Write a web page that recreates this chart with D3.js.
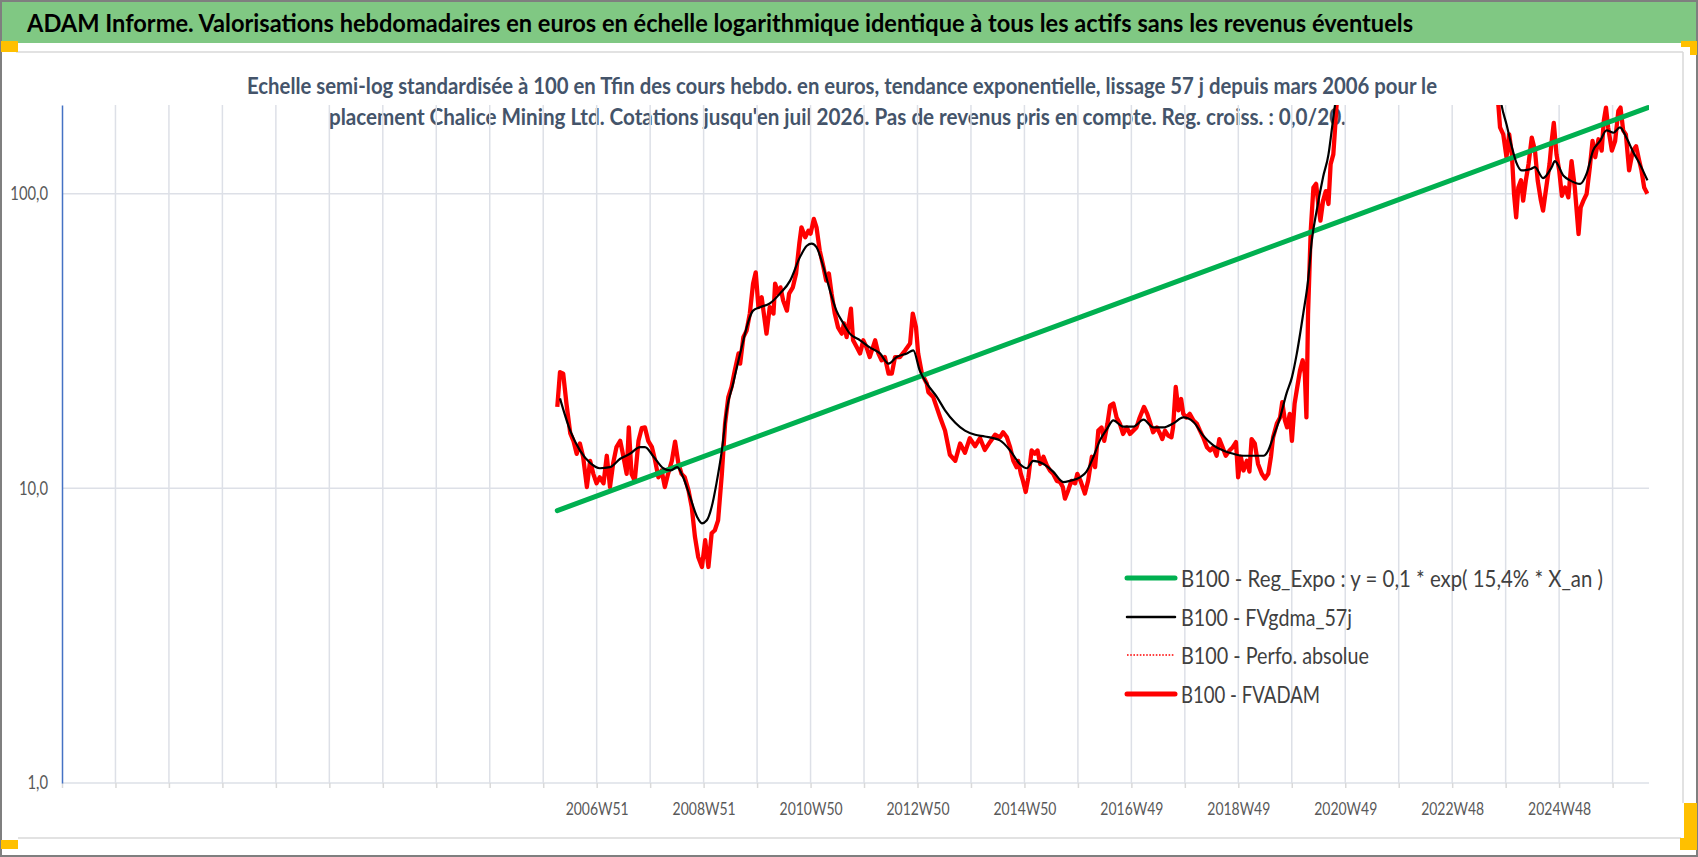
<!DOCTYPE html>
<html><head><meta charset="utf-8">
<script src="https://cdn.jsdelivr.net/npm/d3@7"></script>
<style>
html,body{margin:0;padding:0;background:#fff;}
svg{display:block;}
text{font-family:Lato,"Open Sans","Noto Sans",sans-serif;}
</style></head><body>
<svg id="c" width="1698" height="857"></svg>
<script>
// ---------------- DATA ----------------
const titleText = "ADAM Informe. Valorisations hebdomadaires en euros en échelle logarithmique identique à tous les actifs sans les revenus éventuels";
const subtitleLines = [
  "Echelle semi-log standardisée à 100 en Tfin des cours hebdo. en euros, tendance exponentielle, lissage 57 j depuis mars 2006 pour le",
  "placement Chalice Mining Ltd. Cotations jusqu'en juil 2026. Pas de revenus pris en compte. Reg. croiss. : 0,0/20."
];
const xTickLabels = ["2006W51","2008W51","2010W50","2012W50","2014W50","2016W49","2018W49","2020W49","2022W48","2024W48"];
const xTickGridIndex = [10,12,14,16,18,20,22,24,26,28];
const yTicks = [1,10,100];
const yTickLabels = ["1,0","10,0","100,0"];
const legendLabels = [
  "B100 - Reg_Expo : y = 0,1 * exp( 15,4% *  X_an )",
  "B100 - FVgdma_57j",
  "B100 - Perfo. absolue",
  "B100 - FVADAM"
];

// Exponential regression line (B100 - Reg_Expo)
const regYears  = [2006.21, 2011.0, 2016.0, 2021.0, 2026.49];
const regValues = [8.4, 17.7, 38.5, 83.6, 196];

// B100 - FVADAM (red)
const adamYears = [
2006.21,2006.26,2006.32,2006.38,2006.45,2006.51,2006.57,2006.63,2006.69,2006.76,2006.82,2006.88,2006.94,
2007.00,2007.07,2007.13,2007.19,2007.25,2007.31,2007.38,2007.44,2007.50,2007.54,2007.59,2007.65,2007.72,2007.78,2007.84,2007.90,2007.97,
2008.03,2008.09,2008.15,2008.21,2008.27,2008.34,2008.40,2008.46,2008.52,2008.58,2008.65,2008.71,2008.77,2008.83,2008.90,2008.96,
2009.02,2009.08,2009.14,2009.20,2009.27,2009.33,2009.39,2009.45,2009.51,2009.58,2009.61,2009.67,2009.73,2009.79,2009.85,2009.90,2009.95,
2010.01,2010.05,2010.10,2010.16,2010.23,2010.26,2010.32,2010.36,2010.41,2010.48,2010.52,2010.59,2010.65,2010.71,2010.75,2010.82,2010.88,2010.92,2010.98,
2011.03,2011.09,2011.16,2011.21,2011.26,2011.31,2011.37,2011.43,2011.50,2011.54,2011.59,2011.67,2011.71,2011.78,2011.84,2011.90,2011.96,
2012.02,2012.12,2012.18,2012.24,2012.30,2012.37,2012.43,2012.49,2012.58,2012.68,2012.77,2012.82,2012.88,2012.92,2012.99,
2013.08,2013.11,2013.20,2013.33,2013.42,2013.51,2013.61,2013.70,2013.79,2013.88,2013.98,
2014.07,2014.16,2014.26,2014.35,2014.44,2014.50,2014.57,2014.63,2014.69,2014.75,2014.78,2014.83,2014.87,2014.92,2014.97,
2015.03,2015.09,2015.14,2015.19,2015.25,2015.31,2015.37,2015.43,2015.50,2015.56,2015.61,2015.65,2015.71,2015.77,2015.84,2015.88,2015.94,
2016.02,2016.08,2016.15,2016.21,2016.27,2016.33,2016.38,2016.44,2016.49,2016.55,2016.61,2016.67,2016.73,2016.80,2016.86,2016.92,2016.98,
2017.04,2017.12,2017.18,2017.23,2017.29,2017.36,2017.42,2017.46,2017.51,2017.57,2017.63,2017.66,2017.71,2017.76,2017.81,2017.85,2017.91,2017.97,
2018.04,2018.10,2018.16,2018.22,2018.29,2018.35,2018.41,2018.47,2018.52,2018.58,2018.64,2018.71,2018.77,2018.83,2018.87,2018.92,2018.97,
2019.03,2019.08,2019.12,2019.18,2019.24,2019.31,2019.37,2019.43,2019.48,2019.52,2019.59,2019.65,2019.69,2019.74,2019.78,2019.83,2019.87,2019.92,2019.97,
2020.02,2020.07,2020.11,2020.14,2020.17,2020.22,2020.27,2020.32,2020.36,2020.40,2020.45,2020.50,2020.55,2020.59,2020.64,2020.67,2020.70,
2020.75,2020.85,2020.95,2021.15,2021.35,2021.55,2021.75,2021.90,2022.05,2022.25,2022.45,2022.65,2022.85,2023.05,2023.25,2023.45,2023.60,2023.66,
2023.71,2023.74,2023.80,2023.86,2023.91,2023.96,2024.00,2024.04,2024.08,2024.13,2024.17,2024.22,2024.27,2024.33,2024.39,2024.44,2024.50,2024.54,
2024.59,2024.66,2024.70,2024.74,2024.79,2024.84,2024.89,2024.95,2025.01,2025.07,2025.13,2025.20,2025.24,2025.29,2025.35,2025.41,2025.46,2025.51,
2025.57,2025.63,2025.67,2025.71,2025.75,2025.82,2025.88,2025.94,2025.98,2026.03,2026.08,2026.14,2026.21,2026.27,2026.33,2026.37,2026.42,2026.48
];
const adamValues = [
18.9,24.8,24.5,19.4,15.4,14.5,13.1,14.2,12.8,10.1,12.4,11.2,10.4,
10.9,10.4,12.9,10.1,12.2,13.8,14.5,12.8,11.2,16.1,11.2,10.6,14.5,16.0,16.1,14.5,13.8,
12.4,10.9,11.5,10.1,11.2,12.4,14.4,12.2,11.2,10.9,9.84,8.64,6.84,5.85,5.41,6.67,
5.41,7.04,7.21,7.79,11.2,16.6,20.4,22.1,25.1,28.7,26.5,32.6,34.3,39.2,49.5,54.1,41.2,
44.5,39.2,33.5,41.2,39.2,49.5,45.8,48.1,43.4,40.1,45.8,48.1,53.6,67.7,76.9,71.1,74.9,73.2,82.1,
76.9,64.1,56.3,50.7,53.6,45.8,39.2,35.2,33.5,36.3,32.6,40.7,31.8,30.1,28.7,31.8,30.1,
27.9,31.8,28.7,27.2,27.9,24.5,24.5,27.9,27.9,29.4,31.0,39.2,35.2,28.7,24.5,
22.7,21.2,20.4,17.4,15.7,13.0,12.4,14.2,13.2,14.8,13.9,
14.8,13.5,14.4,15.2,14.9,15.5,14.9,13.8,12.4,11.8,12.4,11.2,10.6,9.72,10.9,
13.45,13.1,13.45,12.1,12.8,12.0,11.5,11.2,10.6,10.5,10.1,9.23,9.84,10.6,10.4,11.2,10.6,
9.6,10.6,12.8,11.8,15.7,16.1,14.5,16.6,19.1,19.4,17.4,16.6,15.3,16.1,15.3,15.7,16.1,
17.4,18.9,17.9,16.8,15.5,16.1,15.3,14.7,15.7,15.1,14.9,16.1,22.1,18.4,20.1,17.9,17.4,17.9,
17.0,16.6,15.7,14.9,13.8,13.45,13.8,12.9,14.7,13.8,12.9,13.45,13.8,14.35,10.9,12.8,11.5,
12.4,11.4,14.7,14.2,12.1,11.2,10.8,11.2,12.8,14.9,16.6,17.4,19.6,17.0,16.1,17.9,14.5,19.4,22.1,
25.1,27.2,24.5,17.4,39.1,74.9,105,108,92.3,81.0,94.7,102,92.3,126,136,164,199,
240,330,420,480,620,720,880,1000,760,650,470,560,500,660,600,430,290,235,
199,168,159,133,159,136,99.8,83.1,105,111,94.7,111,126,155,140,111,94.7,87.6,
102,126,151,174,136,120,98.4,105,97.2,129,105,73.0,89.9,94.7,99.8,123,151,133,
153,140,177,196,168,140,151,191,196,164,159,120,140,145,129,120,105,100
];

// B100 - FVgdma_57j (black, smoothed)
const gdmaYears = [
2006.26,2006.45,2006.63,2006.82,2007.00,2007.19,2007.38,2007.56,2007.75,2007.84,2008.00,2008.18,2008.31,2008.44,2008.55,2008.68,2008.81,2008.90,2008.99,
2009.08,2009.17,2009.27,2009.36,2009.48,2009.61,2009.85,2009.98,2010.16,2010.35,2010.54,2010.72,2010.85,2010.94,2011.03,2011.16,2011.28,2011.40,2011.53,2011.65,2011.84,
2012.02,2012.21,2012.37,2012.52,2012.71,2012.83,2012.95,2013.08,2013.27,2013.42,2013.61,2013.79,2013.98,2014.16,2014.44,2014.63,2014.81,2014.94,
2015.06,2015.25,2015.43,2015.62,2015.74,2015.93,2016.05,2016.18,2016.30,2016.43,2016.55,2016.73,2016.92,2017.11,2017.29,2017.48,2017.66,2017.85,
2018.04,2018.22,2018.41,2018.59,2018.78,2018.97,2019.15,2019.34,2019.43,2019.52,2019.65,2019.77,2019.87,2019.96,
2020.08,2020.17,2020.24,2020.33,2020.45,2020.55,2020.61,2020.67,
2020.75,2020.90,2021.20,2021.50,2021.80,2022.00,2022.30,2022.70,2023.00,2023.30,2023.55,2023.70,
2023.77,2023.86,2023.96,2024.04,2024.14,2024.30,2024.39,2024.54,2024.70,2024.76,2024.92,2025.04,2025.23,2025.35,2025.47,2025.60,2025.72,2025.85,2025.97,2026.09,2026.22,2026.34,2026.48
];
const gdmaValues = [
20.2,15.7,13.45,12.2,11.7,11.8,12.6,13.1,13.8,13.8,12.8,11.7,11.5,11.8,10.9,9.34,8.0,7.61,7.79,
8.64,10.4,13.45,18.4,22.7,28.7,40.1,41.2,42.4,45.8,50.7,60.8,66.6,67.7,65.8,56.3,46.9,40.1,36.3,33.5,31.8,
30.1,28.7,26.5,27.9,28.7,29.4,25.1,22.7,20.4,18.4,16.7,15.7,15.2,15.0,14.55,13.45,12.1,11.7,
12.4,12.1,11.4,10.5,10.6,10.9,11.4,12.8,14.55,15.9,17.0,16.2,16.2,17.1,16.1,16.1,16.6,17.4,
16.8,15.1,14.0,13.45,13.1,12.9,12.9,12.9,13.45,14.9,17.4,21.0,23.8,28.6,
39.1,50.7,69.3,87.6,114,136,164,199,
240,320,480,620,800,760,600,520,560,500,330,240,
199,172,144,128,120,121,123,113,123,129,115,111,108,117,140,151,164,161,168,155,138,126,111
];

// ---------------- LAYOUT ----------------
const W = 1698, H = 857;
const P = {left: 62, right: 1649, top: 105, bottom: 783};
const gridStep = 0.99424;           // one 52-week period on the category axis
const svg = d3.select("#c");

svg.append("rect").attr("width", W).attr("height", H).attr("fill", "#fff");
// header band
svg.append("rect").attr("x", 2).attr("y", 2).attr("width", W - 4).attr("height", 41).attr("fill", "#80c883");
// inner panel light frame
const frame = svg.append("g").attr("stroke", "#d9d9d9").attr("stroke-width", 1.5);
frame.append("line").attr("x1", 16).attr("x2", 1683).attr("y1", 52).attr("y2", 52);
frame.append("line").attr("x1", 18).attr("x2", 1681).attr("y1", 838).attr("y2", 838);
frame.append("line").attr("x1", 1683).attr("x2", 1683).attr("y1", 52).attr("y2", 803);
// outer border
svg.append("rect").attr("x", 1).attr("y", 1).attr("width", W - 2).attr("height", H - 2)
  .attr("fill", "none").attr("stroke", "#7f7f7f").attr("stroke-width", 2);
// orange handles
const org = svg.append("g").attr("fill", "#ffc000");
org.append("rect").attr("x", 1).attr("y", 41).attr("width", 17).attr("height", 11);
org.append("rect").attr("x", 1681).attr("y", 41).attr("width", 16).attr("height", 6);
org.append("rect").attr("x", 1690).attr("y", 41).attr("width", 7).attr("height", 14);
org.append("rect").attr("x", 1684).attr("y", 803).attr("width", 13).attr("height", 36);
org.append("rect").attr("x", 1680).attr("y", 838).attr("width", 17).attr("height", 12);
org.append("rect").attr("x", 1).attr("y", 840).attr("width", 17).attr("height", 9);

// title
svg.append("text").attr("x", 27).attr("y", 32).text(titleText)
  .attr("font-size", 25).attr("font-weight", 700).attr("fill", "#000")
  .attr("textLength", 1386).attr("lengthAdjust", "spacingAndGlyphs");
// subtitle
const subPos = [{x: 247, y: 94, w: 1190}, {x: 329, y: 125, w: 1017}];
subtitleLines.forEach((s, i) => {
  svg.append("text").attr("x", subPos[i].x).attr("y", subPos[i].y).text(s)
    .attr("font-size", 23).attr("font-weight", 700).attr("fill", "#44546a")
    .attr("textLength", subPos[i].w).attr("lengthAdjust", "spacingAndGlyphs");
});

// scales
const x = d3.scaleLinear().domain([1997.0, 2026.51]).range([P.left, P.right]);
const y = d3.scaleLog().domain([1, 200]).range([P.bottom, P.top]);
const gridYears = d3.range(0, 30).map(k => 1997.0 + k * gridStep);

// vertical gridlines
svg.append("g").selectAll("line").data(gridYears.slice(1)).join("line")
  .attr("x1", d => x(d)).attr("x2", d => x(d)).attr("y1", P.top).attr("y2", P.bottom)
  .attr("stroke", "#dde0e7").attr("stroke-width", 1.5);
// horizontal gridlines
svg.append("g").selectAll("line").data(yTicks).join("line")
  .attr("x1", P.left).attr("x2", P.right).attr("y1", d => y(d)).attr("y2", d => y(d))
  .attr("stroke", "#dde0e7").attr("stroke-width", 1.5);

// x axis
const labelByIndex = {};
xTickGridIndex.forEach((k, i) => labelByIndex[k] = xTickLabels[i]);
const xAxis = d3.axisBottom(x).tickValues(gridYears).tickSize(5).tickPadding(14)
  .tickFormat((d, i) => labelByIndex[i] || "");
const gx = svg.append("g").attr("transform", `translate(0,${P.bottom})`).call(xAxis);
gx.select(".domain").remove();
gx.selectAll(".tick line").attr("stroke", "#d9d9d9").attr("stroke-width", 1.5);
gx.selectAll(".tick text").attr("font-size", 18).attr("fill", "#595959").attr("font-family", "Lato")
  .each(function () { const t = this.textContent; if (t) { d3.select(this).attr("textLength", 63).attr("lengthAdjust", "spacingAndGlyphs"); } });

// y axis
const yAxis = d3.axisLeft(y).tickValues(yTicks).tickSize(0).tickPadding(14)
  .tickFormat(d => yTickLabels[yTicks.indexOf(d)]);
const gy = svg.append("g").attr("transform", `translate(${P.left},0)`).call(yAxis);
gy.select(".domain").attr("stroke", "#4472c4").attr("stroke-width", 1.5);
gy.selectAll(".tick text").attr("font-size", 18.5).attr("fill", "#595959").attr("font-family", "Lato")
  .each(function () { const w = this.getComputedTextLength(); d3.select(this).attr("textLength", w * 0.8).attr("lengthAdjust", "spacingAndGlyphs"); });

// clip
svg.append("clipPath").attr("id", "plotclip").append("rect")
  .attr("x", P.left).attr("y", P.top).attr("width", P.right - P.left).attr("height", P.bottom - P.top);
const plot = svg.append("g").attr("clip-path", "url(#plotclip)");

const lineGen = d3.line().x(d => x(d[0])).y(d => y(d[1]));
const zip = (a, b) => a.map((v, i) => [v, b[i]]);

plot.append("path").datum(zip(adamYears, adamValues)).attr("d", lineGen)
  .attr("fill", "none").attr("stroke", "#ff0000").attr("stroke-width", 4.3).attr("stroke-linejoin", "round");
plot.append("path").datum(zip(regYears, regValues)).attr("d", lineGen)
  .attr("fill", "none").attr("stroke", "#00b050").attr("stroke-width", 5).attr("stroke-linecap", "round");
plot.append("path").datum(zip(gdmaYears, gdmaValues)).attr("d", lineGen.curve(d3.curveMonotoneX))
  .attr("fill", "none").attr("stroke", "#000").attr("stroke-width", 2.2).attr("stroke-linejoin", "round");

// legend
const legStyles = [
  {c: "#00b050", w: 5, dash: null},
  {c: "#000000", w: 2.5, dash: null},
  {c: "#ff0000", w: 1.5, dash: "1.6,1.6"},
  {c: "#ff0000", w: 5, dash: null}
];
const legWidths = [422, 171, 188, 139];
const legY = [578, 617, 655, 694];
const leg = svg.append("g");
legendLabels.forEach((lab, i) => {
  const ln = leg.append("line").attr("x1", 1127).attr("x2", 1175).attr("y1", legY[i]).attr("y2", legY[i])
    .attr("stroke", legStyles[i].c).attr("stroke-width", legStyles[i].w)
    .attr("stroke-linecap", legStyles[i].dash ? "butt" : "round");
  if (legStyles[i].dash) ln.attr("stroke-dasharray", legStyles[i].dash);
  leg.append("text").attr("x", 1181).attr("y", legY[i] + 8.5).text(lab)
    .attr("font-size", 22.5).attr("fill", "#404040")
    .attr("textLength", legWidths[i]).attr("lengthAdjust", "spacingAndGlyphs");
});
</script>
</body></html>
